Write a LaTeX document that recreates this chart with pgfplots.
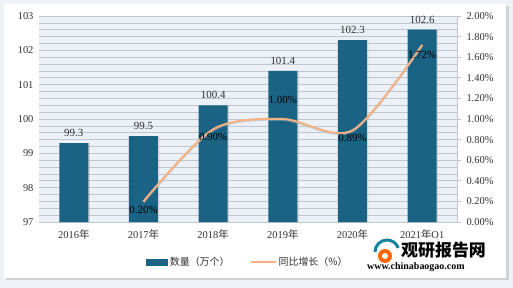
\documentclass[border=0pt]{standalone}
\usepackage{pgfplots}
\pgfplotsset{compat=1.18}
\usepackage{fontspec}
\setmainfont{Liberation Serif}
\newfontfamily\cjk{Noto Sans CJK SC}
\definecolor{barc}{RGB}{26,99,133}
\definecolor{linec}{RGB}{244,177,131}
\definecolor{plotbg}{RGB}{235,241,247}
\definecolor{gridc}{RGB}{192,198,206}
\definecolor{outerbg}{RGB}{238,242,246}
\definecolor{txt}{RGB}{50,50,50}
\begin{document}
\begin{tikzpicture}
\fill[outerbg] (-39bp,-66bp) rectangle (474bp,222bp);
\fill[black!18] (-33bp,-58bp) rectangle (470bp,216bp);
\fill[white] (-35bp,-56bp) rectangle (467bp,218bp);
\begin{axis}[
  at={(0,0)}, anchor=south west,
  width=418bp, height=206bp, scale only axis,
  xmin=-0.5, xmax=5.5, ymin=97, ymax=103,
  axis background/.style={fill=plotbg},
  xtick={0,1,2,3,4,5},
  xticklabels={2016{\cjk 年},2017{\cjk 年},2018{\cjk 年},2019{\cjk 年},2020{\cjk 年},2021{\cjk 年}Q1},
  ytick={97,98,99,100,101,102,103},
  minor y tick num=4,
  ymajorgrids, yminorgrids,
  major grid style={gridc, line width=0.7bp},
  minor grid style={gridc, line width=0.7bp},
  axis y line*=left, axis x line*=bottom,
  x axis line style={gridc, line width=0.8bp},
  y axis line style={draw=none},
  major tick length=0pt, minor tick length=0pt,
  tick style={draw=none},
  ticklabel style={font=\fontsize{10.5}{12}\selectfont, text=txt},
  /pgf/number format/assume math mode=true,
  xticklabel style={yshift=-4bp},
  yticklabel style={xshift=-2bp},
  clip=false,
]
\addplot[ybar, bar width=29bp, fill=black!25, draw=none, opacity=0.5, bar shift=1.5bp, forget plot] coordinates {(0,99.3) (1,99.5) (2,100.4) (3,101.4) (4,102.3) (5,102.6)};
\addplot[ybar, bar width=29bp, fill=barc, draw=none,
  nodes near coords,
  nodes near coords style={font=\fontsize{11}{12}\selectfont, text=txt, /pgf/number format/fixed, /pgf/number format/precision=1, /pgf/number format/fixed zerofill, yshift=3bp},
] coordinates {(0,99.3) (1,99.5) (2,100.4) (3,101.4) (4,102.3) (5,102.6)};
\end{axis}
\begin{axis}[
  at={(0,0)}, anchor=south west,
  width=418bp, height=206bp, scale only axis,
  xmin=-0.5, xmax=5.5, ymin=0, ymax=2,
  axis x line=none,
  axis y line*=right,
  y axis line style={gridc, line width=0.8bp},
  ytick={0,0.2,0.4,0.6,0.8,1.0,1.2,1.4,1.6,1.8,2.0},
  yticklabel={\pgfmathprintnumber[fixed,fixed zerofill,precision=2,assume math mode=true]{\tick}\%},
  tick style={gridc, line width=0.8bp},
  major tick length=4bp,
  tick align=outside,
  ticklabel style={font=\fontsize{10.5}{12}\selectfont, text=txt},
  yticklabel style={xshift=2bp},
  clip=false,
  legend style={at={(0.5,-0.195)}, anchor=center, legend columns=2, draw=none, fill=white,
    font=\cjk\fontsize{10}{12}\selectfont, text=txt,
    /tikz/every even column/.append style={column sep=18bp}},
]
\addlegendimage{legend image code/.code={\fill[barc] (0bp,-3bp) rectangle (21bp,3bp);}}
\addlegendentry{数量（万个）}
\addlegendimage{legend image code/.code={\draw[linec, line width=2bp] (0bp,0bp) -- (25bp,0bp);}}
\addlegendentry{同比增长（\%）}
\addplot[black!30, line width=2bp, smooth, tension=0.5, opacity=0.5, forget plot, yshift=-1bp] coordinates {(1,0.20) (2,0.90) (3,1.00) (4,0.89) (5,1.72)};
\addplot[linec, line width=2bp, smooth, tension=0.5, forget plot] coordinates {(1,0.20) (2,0.90) (3,1.00) (4,0.89) (5,1.72)};
\node[font=\fontsize{11}{12}\selectfont, text=black] at (axis cs:1,0.20) [yshift=-9bp] {0.20\%};
\node[font=\fontsize{11}{12}\selectfont, text=black] at (axis cs:2,0.90) [yshift=-8bp] {0.90\%};
\node[font=\fontsize{11}{12}\selectfont, text=black] at (axis cs:3,1.00) [yshift=19bp] {1.00\%};
\node[font=\fontsize{11}{12}\selectfont, text=black] at (axis cs:4,0.89) [yshift=-8bp] {0.89\%};
\node[font=\fontsize{11}{12}\selectfont, text=black] at (axis cs:5,1.72) [yshift=-10bp] {1.72\%};
\end{axis}
% watermark
\fill[white, opacity=0.85] (326bp,-52bp) rectangle (462bp,-16bp);
\fill[orange!80!red] (346bp,-34bp) circle (7bp);
\draw[barc!80!cyan, line width=3bp] (336bp,-30bp) arc (180:20:12bp);
\fill[white] (346bp,-34bp) circle (3bp);
\node[anchor=west, font=\cjk\bfseries\fontsize{17}{18}\selectfont, inner sep=0pt] at (362bp,-28bp) {观研报告网};
\node[anchor=west, font=\bfseries\fontsize{10}{11}\selectfont, inner sep=0pt] at (328bp,-45.5bp) {www.chinabaogao.com};
\pgfresetboundingbox
\path[use as bounding box] (-39bp,-66bp) rectangle (474bp,222bp);
\end{tikzpicture}
\end{document}
